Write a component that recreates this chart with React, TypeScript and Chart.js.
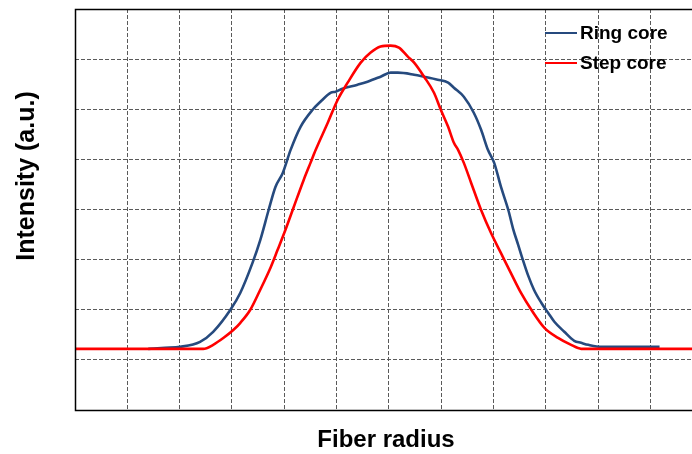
import React, { useEffect, useRef } from "react";
import { Chart, registerables } from "chart.js";

Chart.register(...registerables);

// Fiber radius positions (grid units) and intensities (a.u., grid units)
const ringX = [1.40, 1.72, 2.01, 2.39, 2.64, 2.97, 3.16, 3.39, 3.54, 3.70, 3.83, 3.97, 4.12, 4.31, 4.54, 4.69, 4.89, 4.98, 5.11, 5.40, 5.59, 5.84, 6.03, 6.17, 6.48, 6.67, 6.93, 7.13, 7.24, 7.43, 7.62, 7.76, 7.89, 8.01, 8.14, 8.28, 8.37, 8.47, 8.56, 8.66, 8.77, 8.91, 9.04, 9.16, 9.35, 9.54, 9.67, 9.81, 10.06, 10.69, 11.17];
const ringY = [1.22, 1.24, 1.26, 1.36, 1.56, 2.00, 2.34, 2.93, 3.39, 3.99, 4.45, 4.73, 5.19, 5.65, 5.99, 6.15, 6.33, 6.35, 6.41, 6.49, 6.55, 6.65, 6.73, 6.73, 6.69, 6.65, 6.59, 6.53, 6.43, 6.25, 5.93, 5.59, 5.19, 4.93, 4.45, 3.99, 3.62, 3.29, 2.99, 2.68, 2.40, 2.14, 1.94, 1.76, 1.56, 1.38, 1.34, 1.30, 1.26, 1.26, 1.26];

const stepX = [0, 2.45, 2.64, 2.84, 3.03, 3.16, 3.35, 3.54, 3.74, 3.87, 4.02, 4.18, 4.37, 4.50, 4.60, 4.83, 5.02, 5.21, 5.46, 5.65, 5.84, 6.03, 6.19, 6.36, 6.48, 6.67, 6.86, 6.99, 7.13, 7.24, 7.32, 7.43, 7.57, 7.76, 7.95, 8.14, 8.33, 8.52, 8.72, 8.97, 9.23, 9.48, 9.67, 11.82];
const stepY = [1.22, 1.22, 1.30, 1.44, 1.60, 1.74, 2.00, 2.40, 2.85, 3.19, 3.59, 4.05, 4.59, 4.93, 5.19, 5.73, 6.19, 6.53, 6.93, 7.13, 7.25, 7.27, 7.23, 7.05, 6.93, 6.65, 6.33, 5.99, 5.65, 5.33, 5.19, 4.93, 4.53, 3.99, 3.53, 3.13, 2.73, 2.34, 2.00, 1.64, 1.44, 1.30, 1.22, 1.22];

const seriesNames = ["Ring core", "Step core"];
const seriesColors = ["#264A7E", "#FF0000"];
const xTitle = "Fiber radius";
const yTitle = "Intensity (a.u.)";

const FONT = "'Liberation Sans', Arial, sans-serif";

const frameAndLegend = {
  id: "frameAndLegend",
  afterDraw(chart: any) {
    const { ctx, chartArea } = chart;
    const { left, top, right, bottom } = chartArea;
    ctx.save();
    ctx.strokeStyle = "#000";
    ctx.lineWidth = 1.5;
    ctx.beginPath();
    ctx.moveTo(right, top + 0.5);
    ctx.lineTo(left + 0.5, top + 0.5);
    ctx.lineTo(left + 0.5, bottom + 0.5);
    ctx.lineTo(right, bottom + 0.5);
    ctx.stroke();
    // legend
    const lx = right - 147;
    const ly = top + 24;
    ctx.font = `bold 19px ${FONT}`;
    ctx.textBaseline = "middle";
    ctx.textAlign = "left";
    seriesNames.forEach((name, i) => {
      const y = ly + i * 30;
      ctx.strokeStyle = seriesColors[i];
      ctx.lineWidth = 2;
      ctx.beginPath();
      ctx.moveTo(lx, y);
      ctx.lineTo(lx + 32, y);
      ctx.stroke();
      ctx.fillStyle = "#000";
      ctx.fillText(name, lx + 35, y + 1);
    });
    // axis titles
    ctx.fillStyle = "#000";
    ctx.textAlign = "center";
    ctx.font = `bold 24px ${FONT}`;
    ctx.fillText(xTitle, 386, 440);
    ctx.translate(27, 176);
    ctx.rotate(-Math.PI / 2);
    ctx.font = `bold 25px ${FONT}`;
    ctx.fillText(yTitle, 0, 0);
    ctx.restore();
  },
};

export default function App() {
  const ref = useRef<HTMLCanvasElement>(null);
  useEffect(() => {
    if (!ref.current) return;
    const chart = new Chart(ref.current, {
      type: "line",
      data: {
        datasets: [
          {
            label: seriesNames[0],
            data: ringX.map((x, i) => ({ x, y: ringY[i] })),
            borderColor: seriesColors[0],
            borderWidth: 2.6,
            pointRadius: 0,
            cubicInterpolationMode: "monotone",
            order: 2,
          },
          {
            label: seriesNames[1],
            data: stepX.map((x, i) => ({ x, y: stepY[i] })),
            borderColor: seriesColors[1],
            borderWidth: 2.6,
            pointRadius: 0,
            cubicInterpolationMode: "monotone",
            order: 1,
          },
        ],
      },
      options: {
        animation: false,
        responsive: false,
        maintainAspectRatio: false,
        layout: { padding: { top: 9, right: 0, left: 0, bottom: 0 } },
        plugins: { legend: { display: false }, tooltip: { enabled: false } },
        scales: {
          x: {
            type: "linear",
            min: 0,
            max: 11.79,
            ticks: { display: false, stepSize: 1, includeBounds: false },
            grid: { color: "#5a5a5a", lineWidth: 1, drawTicks: false },
            border: { display: false, dash: [4, 2] },
            title: { display: false },
            afterFit(scale: any) {
              scale.height = 44;
            },
          },
          y: {
            type: "linear",
            min: 0,
            max: 8,
            ticks: { display: false, stepSize: 1 },
            grid: { color: "#5a5a5a", lineWidth: 1, drawTicks: false },
            border: { display: false, dash: [4, 2] },
            title: { display: false },
            afterFit(scale: any) {
              scale.width = 75;
            },
          },
        },
      },
      plugins: [frameAndLegend],
    } as any);
    return () => chart.destroy();
  }, []);
  return (
    <div style={{ position: "fixed", left: 0, top: 0, width: 692, height: 454, background: "#fff" }}>
      <canvas ref={ref} width={692} height={454} style={{ width: 692, height: 454 }} />
    </div>
  );
}
